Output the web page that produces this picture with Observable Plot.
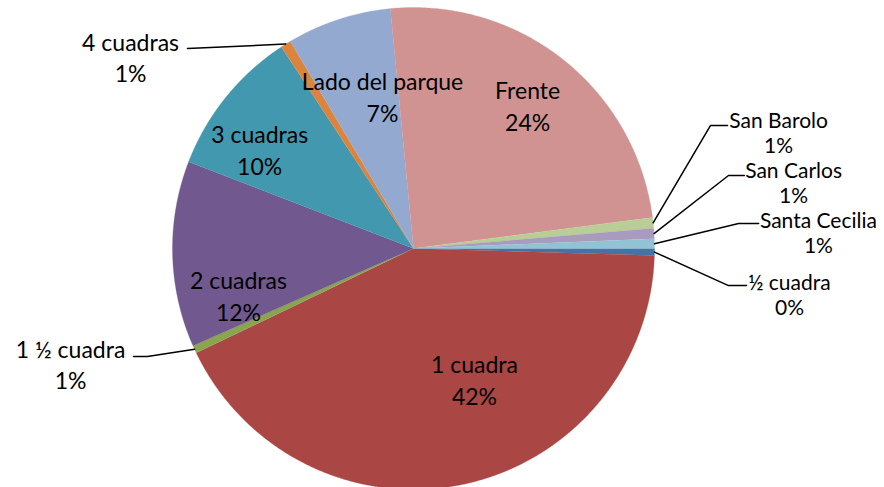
<!DOCTYPE html>
<html><head><meta charset="utf-8">
<script src="https://cdn.jsdelivr.net/npm/d3@7"></script>
<script src="https://cdn.jsdelivr.net/npm/@observablehq/plot@0.6"></script>
<style>html,body{margin:0;padding:0;background:#fff} svg{display:block}</style>
</head><body><div id="chart"></div>
<script>
// ---- data ----
const categories = ["½ cuadra","1 cuadra","1 ½ cuadra","2 cuadras","3 cuadras","4 cuadras","Lado del parque","Frente","San Barolo","San Carlos","Santa Cecilia"];
const values = [0.47, 42.35, 0.52, 12.45, 9.9, 0.69, 7.0, 24.45, 0.72, 0.69, 0.64];
const colors = ["#4572A7","#AA4643","#89A54E","#71588F","#4198AF","#DB843D","#93A9CF","#D19392","#B9CD96","#A99BBD","#92C3D4"];

// ---- layout ----
const firstSliceAngle = 90; // degrees, clockwise from 12 o'clock
// inside labels: [angle deg, radius fraction]
const insideLabels = {
  "Frente": [38.9, 0.754],
  "Lado del parque": [-11.6, 0.64],
  "3 cuadras": [-57.5, 0.757],
  "2 cuadras": [-105.3, 0.753],
  "1 cuadra": [155.2, 0.603]
};
// outside labels: text centre, side group, and leader polyline points (before the rim) in pie units
const outsideLabels = {
  "4 cuadras": {pos: [-1.174, 0.793], side: "left", leader: [[-0.938, 0.830]]},
  "1 ½ cuadra": {pos: [-1.423, -0.481], side: "left", leader: [[-1.162, -0.448], [-1.104, -0.448]]},
  "San Barolo": {pos: [1.515, 0.477], side: "right", leader: [[1.303, 0.510], [1.232, 0.510]]},
  "San Carlos": {pos: [1.577, 0.270], side: "right", leader: [[1.373, 0.303], [1.307, 0.303]]},
  "Santa Cecilia": {pos: [1.680, 0.062], side: "right", leader: [[1.432, 0.104], [1.349, 0.104]]},
  "½ cuadra": {pos: [1.560, -0.195], side: "right", leader: [[1.382, -0.154], [1.307, -0.154]]}
};

// ---- geometry ----
const total = d3.sum(values);
const pt = (deg, r) => { const a = deg * Math.PI / 180; return [r * Math.sin(a), r * Math.cos(a)]; };
let acc = firstSliceAngle;
const slices = categories.map((c, i) => {
  const a0 = acc, a1 = acc + values[i] / total * 360; acc = a1;
  return {name: c, value: values[i], a0, a1, mid: (a0 + a1) / 2, pct: Math.round(values[i] / total * 100)};
});
const polys = [];
for (const s of slices) {
  polys.push({name: s.name, x: 0, y: 0});
  const n = Math.max(2, Math.ceil((s.a1 - s.a0) / 0.25));
  for (let k = 0; k <= n; k++) {
    const [x, y] = pt(s.a0 + (s.a1 - s.a0) * k / n, 1);
    polys.push({name: s.name, x, y});
  }
}
const inLabels = [];
const leftLabels = [];
const rightLabels = [];
const leaders = [];
for (const s of slices) {
  const text = `${s.name}\n${s.pct}%`;
  if (insideLabels[s.name]) {
    const [ang, r] = insideLabels[s.name];
    const [x, y] = pt(ang, r);
    inLabels.push({x, y, text});
  } else if (outsideLabels[s.name]) {
    const o = outsideLabels[s.name];
    (o.side === "left" ? leftLabels : rightLabels).push({x: o.pos[0], y: o.pos[1], text});
    for (const p of o.leader) leaders.push({name: s.name, x: p[0], y: p[1]});
    const [rx, ry] = pt(s.mid, 1);
    leaders.push({name: s.name, x: rx, y: ry});
  }
}

const chart = Plot.plot({
  width: 884, height: 487,
  margin: 0,
  x: {domain: [-1, 1], range: [172, 654], axis: null},
  y: {domain: [-1, 1], range: [489, 7], axis: null},
  color: {domain: categories, range: colors},
  style: {fontFamily: "Lato, 'Open Sans', sans-serif", background: "white"},
  marks: [
    Plot.line(polys, {x: "x", y: "y", z: "name", fill: "name", stroke: "name", strokeWidth: 0.3}),
    Plot.line(leaders, {x: "x", y: "y", z: "name", stroke: "black", strokeWidth: 1.5}),
    Plot.text(inLabels, {x: "x", y: "y", text: "text", fontSize: 23, lineHeight: 1.4, dy: -2, fill: "black", fontFamily: "Lato"}),
    Plot.text(leftLabels, {x: "x", y: "y", text: "text", fontSize: 23, lineHeight: 1.38, dy: -1, fill: "black", fontFamily: "Lato"}),
    Plot.text(rightLabels, {x: "x", y: "y", text: "text", fontSize: 21, lineHeight: 1.2, dy: -1, fill: "black", fontFamily: "Lato"})
  ]
});
document.getElementById("chart").appendChild(chart);
</script></body></html>
